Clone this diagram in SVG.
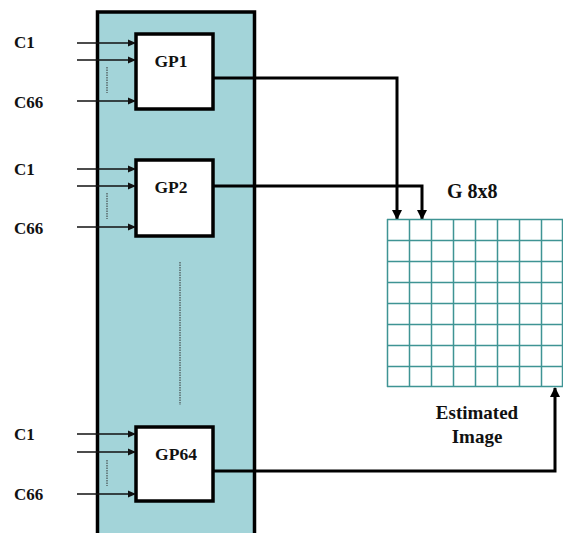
<svg xmlns="http://www.w3.org/2000/svg" width="563" height="533" viewBox="0 0 563 533">
<style>
.lbl{font-family:'Liberation Serif','Times New Roman','DejaVu Serif',serif;font-weight:bold;font-size:17px;fill:#111}
.gp{font-family:'Liberation Serif','Times New Roman','DejaVu Serif',serif;font-weight:bold;font-size:17.5px;fill:#111;text-anchor:middle}
.cap{font-family:'Liberation Serif','Times New Roman','DejaVu Serif',serif;font-weight:bold;font-size:19px;fill:#111;text-anchor:middle}
.box{fill:#fff;stroke:#000;stroke-width:3.5}
.in{stroke:#111;stroke-width:1.5;fill:none}
.out{stroke:#000;stroke-width:3;fill:none}
.dot{stroke:#333;stroke-width:1;stroke-dasharray:1.5 1}
.grid{stroke:#3f9494;stroke-width:1.5;fill:none}
</style>
<defs>
<marker id="sa" markerWidth="8" markerHeight="8" refX="7" refY="4" orient="auto" markerUnits="userSpaceOnUse"><path d="M0,0.5 L8,4 L0,7.5 z" fill="#111"/></marker>
<marker id="ba" markerWidth="10" markerHeight="12" refX="9" refY="5" orient="auto" markerUnits="userSpaceOnUse"><path d="M0,0 L10,5 L0,10 z" fill="#000"/></marker>
</defs>
<g id="panel"><rect x="97.5" y="12" width="157" height="530" fill="#a3d4d9" stroke="#000" stroke-width="3.5"/></g>
<line class="dot" x1="180" y1="262" x2="180" y2="405"/>
<g id="gp1">
<rect class="box" x="136" y="34" width="77" height="75"/>
<text class="gp" x="171" y="67">GP1</text>
</g>
<g id="gp2">
<rect class="box" x="136" y="160" width="77" height="76"/>
<text class="gp" x="171" y="193">GP2</text>
</g>
<g id="gp64">
<rect class="box" x="136" y="427" width="77" height="74"/>
<text class="gp" x="176" y="460">GP64</text>
</g>
<g id="inputs">
<text class="lbl" x="14" y="48">C1</text>
<text class="lbl" x="14" y="108">C66</text>
<line class="in" x1="77" y1="43" x2="135" y2="43" marker-end="url(#sa)"/>
<line class="in" x1="77" y1="60" x2="135" y2="60" marker-end="url(#sa)"/>
<line class="in" x1="77" y1="101" x2="135" y2="101" marker-end="url(#sa)"/>
<line class="dot" x1="107" y1="67" x2="107" y2="93"/>
<text class="lbl" x="14" y="175">C1</text>
<text class="lbl" x="14" y="234">C66</text>
<line class="in" x1="77" y1="169" x2="135" y2="169" marker-end="url(#sa)"/>
<line class="in" x1="77" y1="186" x2="135" y2="186" marker-end="url(#sa)"/>
<line class="in" x1="77" y1="227" x2="135" y2="227" marker-end="url(#sa)"/>
<line class="dot" x1="107" y1="193" x2="107" y2="219"/>
<text class="lbl" x="14" y="440">C1</text>
<text class="lbl" x="14" y="500">C66</text>
<line class="in" x1="77" y1="434" x2="135" y2="434" marker-end="url(#sa)"/>
<line class="in" x1="77" y1="452" x2="135" y2="452" marker-end="url(#sa)"/>
<line class="in" x1="77" y1="494" x2="135" y2="494" marker-end="url(#sa)"/>
<line class="dot" x1="107" y1="460" x2="107" y2="486"/>
</g>
<g id="connectors">
<polyline class="out" points="213,78 397,78 397,219" marker-end="url(#ba)"/>
<polyline class="out" points="213,186 422,186 422,219" marker-end="url(#ba)"/>
<polyline class="out" points="213,471 555,471 555,388" marker-end="url(#ba)"/>
</g>
<g id="grid">
<text class="lbl" x="447" y="198" style="font-size:20px">G 8x8</text>
<path class="grid" d="M387.5,219 V387 M409.5,219 V387 M431.5,219 V387 M453.5,219 V387 M475.5,219 V387 M497.5,219 V387 M519.5,219 V387 M541.5,219 V387 M562.5,219 V387 M387,219.5 H563 M387,240.5 H563 M387,261.5 H563 M387,282.5 H563 M387,303.5 H563 M387,324.5 H563 M387,345.5 H563 M387,366.5 H563 M387,386.5 H563"/>
<text class="cap" x="477" y="419">Estimated</text>
<text class="cap" x="477" y="443">Image</text>
</g>
</svg>
